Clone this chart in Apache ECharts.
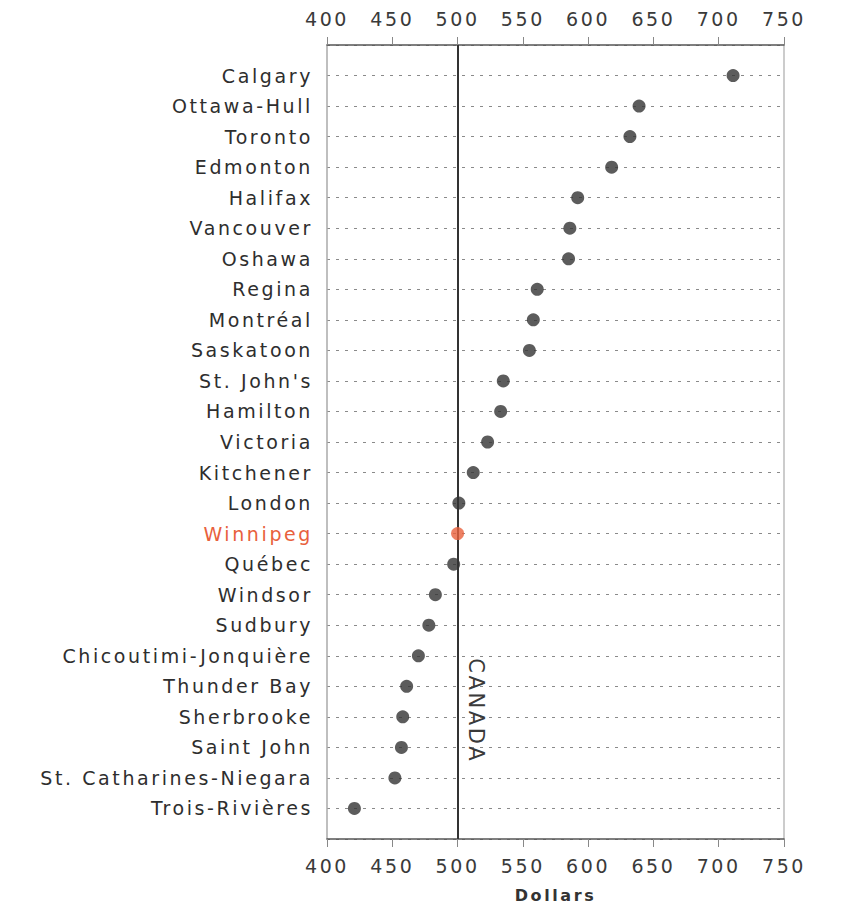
<!DOCTYPE html>
<html>
<head>
<meta charset="utf-8">
<script src="https://cdn.jsdelivr.net/npm/echarts@6/dist/echarts.min.js"></script>
<style>
  html, body { margin: 0; padding: 0; background: #fff; }
  #chart { width: 844px; height: 908px; }
  #chart svg text { letter-spacing: 2.6px; }
</style>
</head>
<body>
<div id="chart"></div>
<script>
// ---- data ----
const cities = ["Calgary", "Ottawa-Hull", "Toronto", "Edmonton", "Halifax", "Vancouver", "Oshawa",
  "Regina", "Montréal", "Saskatoon", "St. John's", "Hamilton", "Victoria", "Kitchener", "London",
  "Winnipeg", "Québec", "Windsor", "Sudbury", "Chicoutimi-Jonquière", "Thunder Bay", "Sherbrooke",
  "Saint John", "St. Catharines-Niegara", "Trois-Rivières"];
const rents = [711, 639, 632, 618, 592, 586, 585, 561, 558, 555, 535, 533, 523, 512, 501,
  500, 497, 483, 478, 470, 461, 458, 457, 452, 421];
const highlightCity = "Winnipeg";
const canadaValue = 500;
const canadaLabel = "CANADA";
const xTicks = [400, 450, 500, 550, 600, 650, 700, 750];
const axisTitle = "Dollars";

const DARK = '#333';
const HILITE = '#e8603c';
const FONT = '"DejaVu Sans", sans-serif';

const chart = echarts.init(document.getElementById('chart'), null, { renderer: 'svg' });

const points = cities.map((c, i) => ({
  value: [rents[i], i],
  itemStyle: { color: c === highlightCity ? HILITE : DARK }
}));

const xCommon = {
  type: 'value',
  min: xTicks[0],
  max: xTicks[xTicks.length - 1],
  interval: xTicks[1] - xTicks[0],
  splitLine: { show: false },
  axisLine: { show: true, onZero: false, lineStyle: { color: '#555', width: 1.5 } },
  axisTick: { show: true, length: 8, lineStyle: { color: '#888', width: 1 } },
  axisLabel: { color: '#3a3a3a', fontSize: 19, fontFamily: FONT }
};

const option = {
  backgroundColor: '#fff',
  animation: false,
  grid: { left: 327, right: 60, top: 45, bottom: 69, outerBoundsMode: 'none', containLabel: false },
  xAxis: [
    Object.assign({}, xCommon, {
      position: 'bottom',
      axisLabel: Object.assign({}, xCommon.axisLabel, { margin: 17 }),
      name: axisTitle,
      nameLocation: 'middle',
      nameGap: 48,
      nameTextStyle: { color: '#333', fontSize: 16, fontWeight: 'bold', fontFamily: FONT }
    }),
    Object.assign({}, xCommon, {
      position: 'top',
      axisLabel: Object.assign({}, xCommon.axisLabel, { margin: 17 })
    })
  ],
  yAxis: [
    {
      type: 'value',
      inverse: true,
      min: -1,
      max: cities.length,
      interval: 1,
      axisLine: { show: true, onZero: false, lineStyle: { color: '#aaa', width: 1.5 } },
      axisTick: { show: false },
      splitLine: { show: true, lineStyle: { color: '#8a8a8a', width: 1.2, type: [3, 6] } },
      axisLabel: {
        margin: 14,
        fontSize: 19,
        fontFamily: FONT,
        color: '#2e2e2e',
        formatter: function (v) {
          if (!Number.isInteger(v) || v < 0 || v >= cities.length) return '';
          const name = cities[v];
          return name === highlightCity ? '{hl|' + name + '}' : name;
        },
        rich: { hl: { color: HILITE, fontSize: 19, fontFamily: FONT } }
      }
    },
    {
      type: 'value',
      inverse: true,
      position: 'right',
      min: -1,
      max: cities.length,
      axisLine: { show: true, onZero: false, lineStyle: { color: '#bbb', width: 1.5 } },
      axisTick: { show: false },
      axisLabel: { show: false },
      splitLine: { show: false }
    }
  ],
  series: [
    {
      type: 'scatter',
      xAxisIndex: 0,
      yAxisIndex: 0,
      z: 1,
      data: [],
      markLine: {
        silent: true,
        symbol: 'none',
        label: { show: false },
        lineStyle: { color: DARK, width: 2, type: 'solid' },
        data: [{ xAxis: canadaValue }]
      },
      markPoint: {
        symbol: 'circle',
        symbolSize: 0,
        label: {
          show: true,
          formatter: canadaLabel,
          rotate: -90,
          color: '#3a3a3a',
          fontSize: 21,
          fontFamily: FONT
        },
        data: [{ coord: [canadaValue + 14, 20.8] }]
      }
    },
    {
      type: 'scatter',
      xAxisIndex: 0,
      yAxisIndex: 0,
      z: 5,
      symbolSize: 13,
      data: points
    }
  ]
};

chart.setOption(option);
</script>
</body>
</html>
